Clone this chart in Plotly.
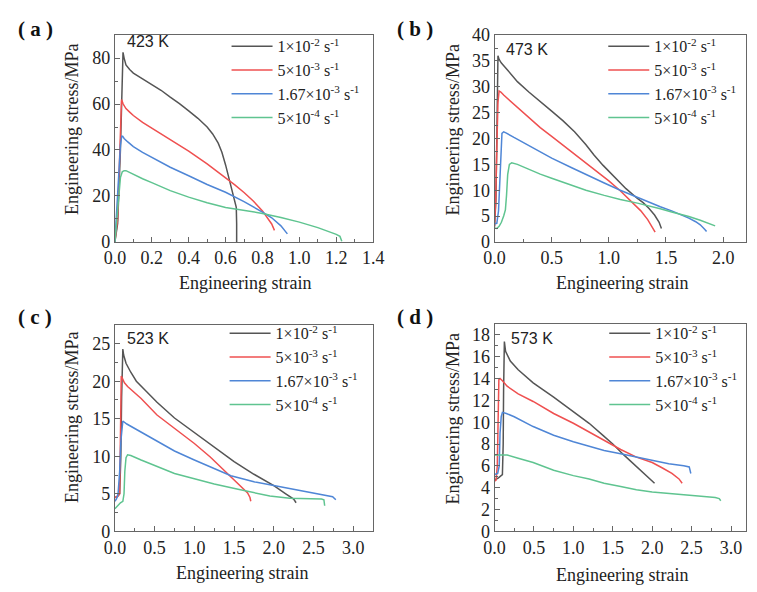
import plotly.graph_objects as go

W, H = 757, 592

# ---------------- data ----------------
rate_labels = ["1×10<sup>-2</sup> s<sup>-1</sup>", "5×10<sup>-3</sup> s<sup>-1</sup>",
               "1.67×10<sup>-3</sup> s<sup>-1</sup>", "5×10<sup>-4</sup> s<sup>-1</sup>"]
panel_temps = ["423 K", "473 K", "523 K", "573 K"]
panel_tags = ["( a )", "( b )", "( c )", "( d )"]

# (a) 423 K
a_x_1 = [0.0, 0.015, 0.03, 0.038, 0.044, 0.05, 0.06, 0.08, 0.1, 0.15, 0.2, 0.25, 0.3, 0.35, 0.4, 0.45, 0.5, 0.53, 0.56, 0.58, 0.6, 0.62, 0.64, 0.652, 0.658, 0.66, 0.66]
a_y_1 = [0, 8, 40, 70, 82.5, 80, 77, 75, 73.5, 71, 68.5, 66, 63, 60.2, 57, 53.8, 50, 47, 43, 39, 33.5, 27, 20.5, 17, 15, 8, 0]
a_x_2 = [0.0, 0.015, 0.025, 0.032, 0.036, 0.045, 0.06, 0.08, 0.1, 0.15, 0.2, 0.3, 0.4, 0.5, 0.6, 0.65, 0.7, 0.75, 0.8, 0.83, 0.85, 0.865]
a_y_2 = [0, 10, 35, 58, 62, 60, 58, 56.5, 55, 52, 49.5, 44.5, 39.5, 34, 28, 24.8, 21.5, 17.8, 13.5, 10.3, 7.8, 5]
a_x_3 = [0.0, 0.01, 0.02, 0.03, 0.037, 0.042, 0.05, 0.07, 0.1, 0.15, 0.2, 0.3, 0.4, 0.5, 0.6, 0.7, 0.8, 0.85, 0.9, 0.935]
a_y_3 = [0, 12, 28, 42, 46, 46, 45, 43.5, 41.5, 39, 36.8, 32.5, 28.8, 25, 21.6, 17.5, 13, 10.5, 7, 3.5]
a_x_4 = [0.0, 0.01, 0.02, 0.03, 0.04, 0.05, 0.06, 0.08, 0.1, 0.15, 0.2, 0.3, 0.4, 0.5, 0.6, 0.7, 0.8, 0.9, 1.0, 1.1, 1.15, 1.2, 1.22, 1.228, 1.23]
a_y_4 = [0, 10, 22, 28, 30.5, 31, 31, 30.2, 29.3, 27.5, 25.8, 22.3, 19.5, 17, 15, 13.6, 12.4, 10.6, 8.6, 6.2, 4.9, 3.3, 2.4, 1.2, 0.3]

# (b) 473 K
b_x_1 = [0, 0.012, 0.02, 0.026, 0.03, 0.04, 0.06, 0.1, 0.2, 0.3, 0.4, 0.5, 0.6, 0.7, 0.8, 0.87, 0.95, 1.05, 1.15, 1.25, 1.3, 1.35, 1.4, 1.44, 1.46]
b_y_1 = [3, 8, 20, 32, 36, 35.3, 34.6, 33.6, 31, 29, 27.2, 25.3, 23.4, 21.3, 18.8, 16.8, 14.8, 12.5, 10.3, 8.4, 7.6, 6.5, 5.2, 3.8, 2.6]
b_x_2 = [0, 0.01, 0.02, 0.03, 0.04, 0.055, 0.08, 0.12, 0.2, 0.3, 0.4, 0.5, 0.6, 0.7, 0.8, 0.9, 1.0, 1.1, 1.2, 1.28, 1.34, 1.38, 1.405]
b_y_2 = [3, 8, 18, 27, 29.2, 29, 28.4, 27.6, 26, 24, 22.1, 20.4, 18.7, 17, 15.3, 13.6, 11.8, 9.9, 7.8, 6, 4.3, 2.8, 1.9]
b_x_3 = [0, 0.02, 0.035, 0.045, 0.055, 0.065, 0.08, 0.1, 0.17, 0.3, 0.4, 0.5, 0.68, 0.8, 0.96, 1.1, 1.25, 1.35, 1.45, 1.55, 1.62, 1.7, 1.76, 1.8, 1.84, 1.855]
b_y_3 = [3.5, 3.6, 6, 12, 18, 21, 21.3, 21.1, 20.2, 18.6, 17.4, 16.2, 14.3, 13, 11.4, 10, 8.6, 7.7, 6.8, 6.0, 5.4, 4.6, 3.9, 3.3, 2.4, 2.0]
b_x_4 = [0, 0.02, 0.04, 0.06, 0.08, 0.095, 0.105, 0.115, 0.13, 0.15, 0.2, 0.3, 0.4, 0.5, 0.68, 0.8, 0.96, 1.1, 1.25, 1.35, 1.45, 1.55, 1.62, 1.7, 1.8, 1.88, 1.93]
b_y_4 = [2.7, 2.6, 3, 3.8, 5, 6.2, 9, 13, 15, 15.3, 15, 14, 13.1, 12.3, 10.9, 10, 9, 8.2, 7.5, 7.0, 6.4, 5.8, 5.4, 4.9, 4.2, 3.6, 3.1]

# (c) 523 K
c_x_1 = [0, 0.03, 0.06, 0.075, 0.085, 0.095, 0.1, 0.11, 0.14, 0.2, 0.27, 0.4, 0.53, 0.75, 1.0, 1.2, 1.34, 1.5, 1.75, 2.0, 2.15, 2.25, 2.28]
c_y_1 = [4.5, 4.6, 5, 10, 18, 23, 24.3, 23.5, 22.4, 21.2, 20, 18.6, 17.2, 15.1, 13.2, 11.6, 10.5, 9.3, 7.6, 6.1, 5.0, 4.3, 3.8]
c_x_2 = [0, 0.04, 0.06, 0.068, 0.075, 0.08, 0.09, 0.12, 0.16, 0.25, 0.33, 0.53, 0.75, 1.0, 1.2, 1.34, 1.45, 1.55, 1.62, 1.67, 1.7, 1.71]
c_y_2 = [4.5, 4.7, 5, 10, 17, 20.7, 20.5, 19.8, 19.3, 18.4, 17.7, 15.5, 13.7, 11.7, 9.9, 8.5, 7.3, 6.3, 5.6, 5.1, 4.5, 4.0]
c_x_3 = [0, 0.02, 0.04, 0.06, 0.075, 0.09, 0.1, 0.15, 0.25, 0.33, 0.53, 0.75, 1.0, 1.25, 1.46, 1.75, 2.0, 2.25, 2.5, 2.68, 2.74, 2.78]
c_y_3 = [4.0, 4.3, 5, 8, 12, 14.5, 14.7, 14.3, 13.7, 13.3, 12.1, 10.7, 9.5, 8.3, 7.4, 6.6, 6.1, 5.6, 5.1, 4.8, 4.6, 4.2]
c_x_4 = [0, 0.03, 0.07, 0.1, 0.115, 0.125, 0.14, 0.16, 0.2, 0.33, 0.53, 0.75, 1.0, 1.25, 1.55, 1.75, 1.95, 2.2, 2.4, 2.6, 2.63, 2.64]
c_y_4 = [3.0, 3.4, 3.8, 4.0, 5, 8, 9.8, 10.2, 10.1, 9.5, 8.6, 7.7, 7.0, 6.3, 5.6, 5.1, 4.7, 4.4, 4.4, 4.3, 4.2, 3.4]

# (d) 573 K
d_x_1 = [0, 0.05, 0.1, 0.11, 0.115, 0.12, 0.125, 0.14, 0.16, 0.2, 0.3, 0.49, 0.75, 1.0, 1.2, 1.39, 1.5, 1.64, 1.8, 1.9, 2.0, 2.03]
d_y_1 = [4.7, 4.9, 5.2, 8, 13, 16.5, 17.4, 16.5, 16.2, 15.6, 14.8, 13.6, 12.3, 11.0, 9.9, 8.7, 8.0, 7.0, 5.9, 5.2, 4.6, 4.4]
d_x_2 = [0, 0.02, 0.035, 0.045, 0.055, 0.07, 0.1, 0.16, 0.3, 0.49, 0.75, 1.0, 1.2, 1.39, 1.6, 1.8, 2.0, 2.13, 2.25, 2.34, 2.38]
d_y_2 = [4.6, 4.7, 6, 11, 13.9, 14, 13.8, 13.3, 12.6, 11.9, 10.8, 9.9, 9.1, 8.4, 7.5, 6.8, 6.3, 5.8, 5.3, 4.8, 4.4]
d_x_3 = [0, 0.04, 0.06, 0.07, 0.085, 0.1, 0.15, 0.25, 0.49, 0.75, 1.0, 1.2, 1.39, 1.6, 1.8, 2.0, 2.21, 2.4, 2.47, 2.49]
d_y_3 = [5.2, 5.3, 6, 9, 10.5, 10.9, 10.8, 10.5, 9.6, 8.8, 8.2, 7.8, 7.4, 7.1, 6.8, 6.5, 6.2, 6.0, 5.9, 5.3]
d_x_4 = [0, 0.05, 0.1, 0.16, 0.3, 0.49, 0.75, 1.0, 1.2, 1.39, 1.6, 1.8, 2.0, 2.21, 2.4, 2.62, 2.8, 2.85, 2.87]
d_y_4 = [7.0, 7.0, 7.0, 7.0, 6.7, 6.3, 5.6, 5.1, 4.8, 4.4, 4.1, 3.8, 3.6, 3.45, 3.3, 3.2, 3.1, 3.0, 2.8]

x_ranges = [[0, 1.4], [0, 2.2], [0, 3.25], [0, 3.19]]
y_ranges = [[0, 90], [0, 40], [0, 27.5], [0, 19]]
x_dticks = [0.2, 0.5, 0.5, 0.5]
y_dticks = [20, 5, 5, 2]

curves = [
    [(a_x_1, a_y_1), (a_x_2, a_y_2), (a_x_3, a_y_3), (a_x_4, a_y_4)],
    [(b_x_1, b_y_1), (b_x_2, b_y_2), (b_x_3, b_y_3), (b_x_4, b_y_4)],
    [(c_x_1, c_y_1), (c_x_2, c_y_2), (c_x_3, c_y_3), (c_x_4, c_y_4)],
    [(d_x_1, d_y_1), (d_x_2, d_y_2), (d_x_3, d_y_3), (d_x_4, d_y_4)],
]

colors = ["#555555", "#ef5050", "#4f86d6", "#5fc490"]

# ---------------- layout geometry (pixels) ----------------
def fx(px):
    return px / W

def fy(py):
    return 1 - py / H

# frame boxes: left, right, top, bottom
boxes = [(107, 373, 26, 240), (498, 757, 26, 240),
         (107, 373, 326, 539.5), (498, 757, 325, 539.5)]

SERIF = "Liberation Serif"
SANS = "Liberation Sans"
TXT = "#222222"

fig = go.Figure()
layout = dict(width=W, height=H, margin=dict(l=0, r=0, t=0, b=0),
              paper_bgcolor="white", plot_bgcolor="white", showlegend=True)

legend_pos = [(222, 20), (610, 20), (220, 317), (611, 317)]

for i in range(4):
    n = "" if i == 0 else str(i + 1)
    L, R, T, B = boxes[i]
    layout["xaxis" + n] = dict(
        domain=[fx(L), fx(R)], range=x_ranges[i], anchor="y" + n,
        showline=True, linecolor="#666666", linewidth=1, mirror=True,
        ticks="inside", ticklen=5, tickcolor="#666666", dtick=x_dticks[i], tick0=0,
        tickformat=".1f", showgrid=False, zeroline=False,
        tickfont=dict(family=SERIF, size=18, color=TXT),
        minor=dict(ticks="inside", ticklen=3, tickcolor="#666666", dtick=x_dticks[i] / 2),
    )
    layout["yaxis" + n] = dict(
        domain=[fy(B), fy(T)], range=y_ranges[i], anchor="x" + n,
        showline=True, linecolor="#666666", linewidth=1, mirror=True,
        ticks="inside", ticklen=5, tickcolor="#666666", dtick=y_dticks[i], tick0=0,
        showgrid=False, zeroline=False,
        tickfont=dict(family=SERIF, size=18, color=TXT),
        minor=dict(ticks="inside", ticklen=3, tickcolor="#666666", dtick=y_dticks[i] / 2),
    )
    lx, ly = legend_pos[i]
    layout["legend" + n] = dict(
        x=fx(lx), y=fy(ly), xanchor="left", yanchor="top", xref="paper", yref="paper",
        bgcolor="rgba(0,0,0,0)", borderwidth=0, itemwidth=41, tracegroupgap=0,
        font=dict(family=SERIF, size=16, color=TXT),
    )
    for j, (xs, ys) in enumerate(curves[i]):
        fig.add_trace(go.Scatter(
            x=xs, y=ys, mode="lines", name=rate_labels[j],
            line=dict(color=colors[j], width=1.5),
            xaxis="x" + n, yaxis="y" + n, legend="legend" + n,
        ))

fig.update_layout(**layout)

ann = []
tag_pos = [(25, 20), (416, 20), (25, 318), (416, 318)]
temp_pos = [(141, 33), (531, 41), (141, 340), (537, 340)]
xt_pos = [(241, 283), (629, 283), (238, 583), (629, 585)]
yt_pos = [(63, 124), (455, 124), (63, 422), (455, 423)]
common = dict(xref="paper", yref="paper", showarrow=False, xanchor="center", yanchor="middle")
for i in range(4):
    ann.append(dict(text="<b>" + panel_tags[i] + "</b>", x=fx(tag_pos[i][0]), y=fy(tag_pos[i][1]),
                    font=dict(family=SERIF, size=21, color="#111111"), **common))
    ann.append(dict(text=panel_temps[i], x=fx(temp_pos[i][0]), y=fy(temp_pos[i][1]),
                    font=dict(family=SANS, size=16, color=TXT), **common))
    ann.append(dict(text="Engineering strain", x=fx(xt_pos[i][0]), y=fy(xt_pos[i][1]),
                    font=dict(family=SERIF, size=18, color=TXT), **common))
    ann.append(dict(text="Engineering stress/MPa", x=fx(yt_pos[i][0]), y=fy(yt_pos[i][1]),
                    textangle=-90, font=dict(family=SERIF, size=18, color=TXT), **common))
fig.update_layout(annotations=ann)

fig.write_html("out.html")
